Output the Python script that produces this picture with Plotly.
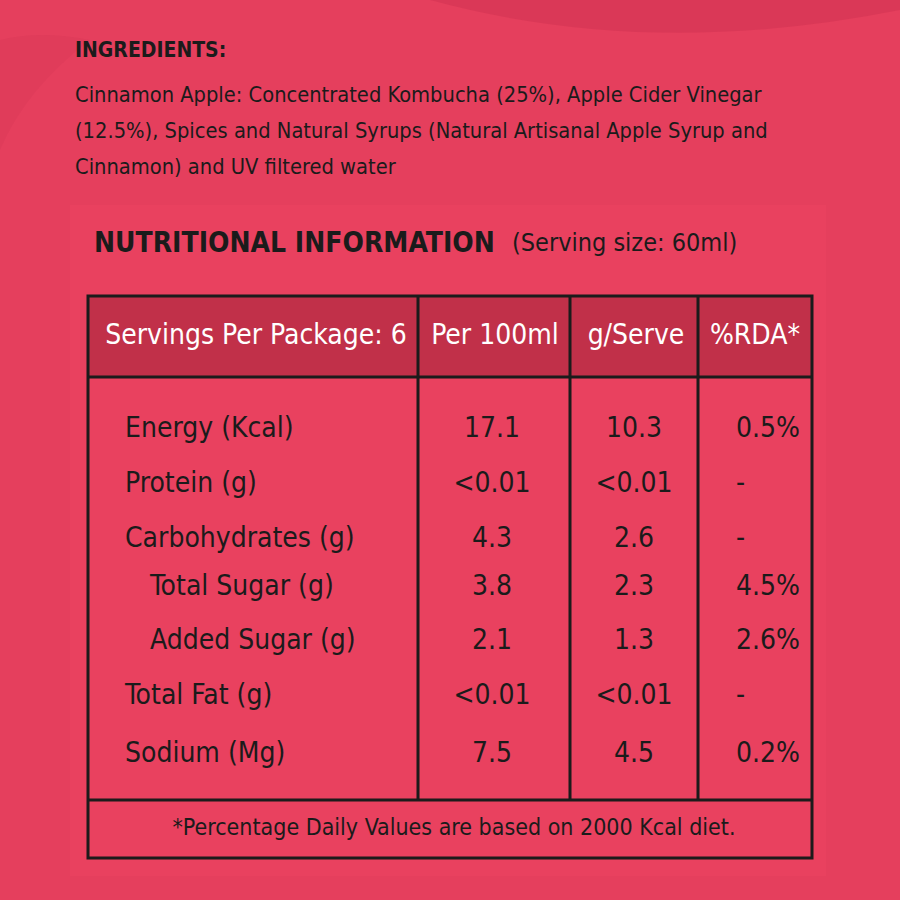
import plotly.graph_objects as go

# label text
ingredients_title = "INGREDIENTS:"
ingredient_lines = [
    "Cinnamon Apple: Concentrated Kombucha (25%), Apple Cider Vinegar",
    "(12.5%), Spices and Natural Syrups (Natural Artisanal Apple Syrup and",
    "Cinnamon) and UV filtered water",
]
title = "NUTRITIONAL INFORMATION"
serving = "(Serving size: 60ml)"
headers = ["Servings Per Package: 6", "Per 100ml", "g/Serve", "%RDA*"]
nutrients = ["Energy (Kcal)", "Protein (g)", "Carbohydrates (g)", "Total Sugar (g)",
             "Added Sugar (g)", "Total Fat (g)", "Sodium (Mg)"]
indent = [False, False, False, True, True, False, False]
per_100ml = ["17.1", "<0.01", "4.3", "3.8", "2.1", "<0.01", "7.5"]
per_serve = ["10.3", "<0.01", "2.6", "2.3", "1.3", "<0.01", "4.5"]
rda = ["0.5%", "-", "-", "4.5%", "2.6%", "-", "0.2%"]
footnote = "*Percentage Daily Values are based on 2000 Kcal diet."

# layout (pixel space)
BG = "#E53F5D"
PANEL = "#E9415F"
HEAD_FILL = "#C13049"
DARK = "#1b1b1b"
FONT = "DejaVu Sans Condensed, Liberation Sans Narrow, sans-serif"

row_y = [430, 485, 540, 588, 642, 697, 755]
tbl_x0, tbl_x1 = 88, 812
tbl_y0, head_y1, body_y1, tbl_y1 = 296, 377, 800, 858
col_div = [418, 570, 698]

fig = go.Figure()

# ingredients
fig.add_trace(go.Scatter(x=[75], y=[52], mode="text", text=[f"<b>{ingredients_title}</b>"],
                         textposition="middle right",
                         textfont=dict(family=FONT, size=21, color=DARK)))
fig.add_trace(go.Scatter(x=[75] * len(ingredient_lines), y=[97, 133, 169], mode="text",
                         text=ingredient_lines, textposition="middle right",
                         textfont=dict(family=FONT, size=21.7, color=DARK)))

# title
fig.add_trace(go.Scatter(x=[94], y=[245], mode="text", text=[f"<b>{title}</b>"],
                         textposition="middle right",
                         textfont=dict(family=FONT, size=28, color=DARK)))
fig.add_trace(go.Scatter(x=[512], y=[245], mode="text", text=[serving],
                         textposition="middle right",
                         textfont=dict(family=FONT, size=25, color=DARK)))

# header row
fig.add_trace(go.Scatter(x=[256, 495, 636, 755], y=[337] * 4, mode="text", text=headers,
                         textposition="middle center",
                         textfont=dict(family=FONT, size=28, color="white")))

# body rows
name_x = [150 if i else 125 for i in indent]
fig.add_trace(go.Scatter(x=name_x, y=row_y, mode="text", text=nutrients,
                         textposition="middle right",
                         textfont=dict(family=FONT, size=28, color=DARK)))
fig.add_trace(go.Scatter(x=[492] * len(row_y), y=row_y, mode="text", text=per_100ml,
                         textposition="middle center",
                         textfont=dict(family=FONT, size=28, color=DARK)))
fig.add_trace(go.Scatter(x=[634] * len(row_y), y=row_y, mode="text", text=per_serve,
                         textposition="middle center",
                         textfont=dict(family=FONT, size=28, color=DARK)))
fig.add_trace(go.Scatter(x=[736] * len(row_y), y=row_y, mode="text", text=rda,
                         textposition="middle right",
                         textfont=dict(family=FONT, size=28, color=DARK)))

# footnote
fig.add_trace(go.Scatter(x=[454], y=[829], mode="text", text=[footnote],
                         textposition="middle center",
                         textfont=dict(family=FONT, size=23, color=DARK)))

shapes = [
    # soft background swirls
    dict(type="path", path="M 430 0 Q 650 60 900 10 L 900 0 Z",
         fillcolor="rgba(170,30,60,0.18)", line_width=0, layer="below"),
    dict(type="path", path="M 0 150 Q 25 90 90 40 Q 40 30 0 40 Z",
         fillcolor="rgba(170,30,60,0.08)", line_width=0, layer="below"),
    dict(type="rect", x0=70, x1=826, y0=205, y1=876, fillcolor=PANEL,
         line_width=0, layer="below"),
    # header fill
    dict(type="rect", x0=tbl_x0, x1=tbl_x1, y0=tbl_y0, y1=head_y1,
         fillcolor=HEAD_FILL, line_width=0, layer="below"),
    # table grid
    dict(type="rect", x0=tbl_x0, x1=tbl_x1, y0=tbl_y0, y1=tbl_y1,
         line=dict(color=DARK, width=3)),
    dict(type="line", x0=tbl_x0, x1=tbl_x1, y0=head_y1, y1=head_y1,
         line=dict(color=DARK, width=3)),
    dict(type="line", x0=tbl_x0, x1=tbl_x1, y0=body_y1, y1=body_y1,
         line=dict(color=DARK, width=3)),
]
for cx in col_div:
    shapes.append(dict(type="line", x0=cx, x1=cx, y0=tbl_y0, y1=body_y1,
                       line=dict(color=DARK, width=3)))

fig.update_layout(
    width=900, height=900,
    margin=dict(l=0, r=0, t=0, b=0),
    paper_bgcolor=BG, plot_bgcolor=BG,
    showlegend=False,
    hovermode=False,
    shapes=shapes,
    xaxis=dict(range=[0, 900], visible=False, fixedrange=True),
    yaxis=dict(range=[900, 0], visible=False, fixedrange=True),
)

# drop the default page margin so the figure sits at the window corner
fig.write_html("out.html",
               config={"displayModeBar": False},
               post_script="document.body.style.margin='0';"
                           "document.body.style.overflow='hidden';"
                           f"document.body.style.background='{BG}';")
